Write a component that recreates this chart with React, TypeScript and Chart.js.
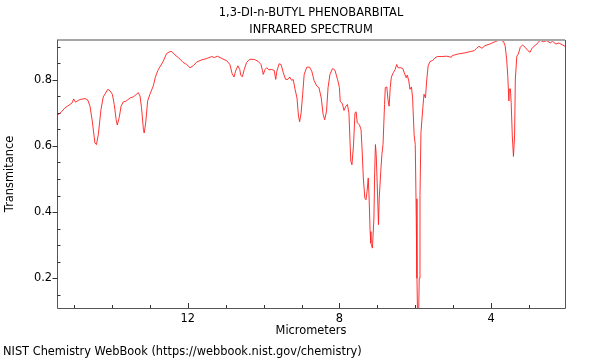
import React, { useEffect, useRef } from 'react';
import { Chart, registerables } from 'chart.js';

Chart.register(...registerables);

const titleLines = ['1,3-DI-n-BUTYL PHENOBARBITAL', 'INFRARED SPECTRUM'];
const xAxisLabel = 'Micrometers';
const yAxisLabel = 'Transmitance';
const footerText = 'NIST Chemistry WebBook (https://webbook.nist.gov/chemistry)';

const xRange = [2.05, 15.45];
const yRange = [0.11, 0.92];
const xMajorTicks = [12, 8, 4];
const xMinorTicks = [15, 14, 13, 11, 10, 9, 7, 6, 5, 3];
const yMajorTicks = [0.2, 0.4, 0.6, 0.8];
const yMinorTicks = [0.15, 0.25, 0.3, 0.35, 0.45, 0.5, 0.55, 0.65, 0.7, 0.75, 0.85, 0.9];

const wavelengths = [
  15.45, 15.33, 15.24, 15.11, 15.05, 15.01, 14.96, 14.9, 14.84, 14.71, 14.64, 14.58, 14.52, 14.45, 14.41, 14.36,
  14.29, 14.23, 14.11, 14.05, 13.99, 13.94, 13.89, 13.86, 13.81, 13.76, 13.7, 13.63, 13.52, 13.44, 13.37, 13.31,
  13.26, 13.22, 13.17, 13.15, 13.11, 13.06, 13.0, 12.91, 12.86, 12.79, 12.65, 12.56, 12.47, 12.42, 12.34, 12.25,
  12.12, 12.03, 11.94, 11.85, 11.76, 11.63, 11.5, 11.37, 11.3, 11.22, 11.1, 10.97, 10.89, 10.83, 10.78, 10.74,
  10.68, 10.63, 10.6, 10.56, 10.51, 10.45, 10.36, 10.24, 10.15, 10.07, 10.03, 10.01, 9.96, 9.92, 9.86, 9.79,
  9.72, 9.68, 9.65, 9.59, 9.54, 9.48, 9.42, 9.36, 9.31, 9.26, 9.22, 9.17, 9.12, 9.08, 9.05, 9.01,
  8.97, 8.93, 8.86, 8.79, 8.73, 8.67, 8.6, 8.54, 8.48, 8.43, 8.39, 8.34, 8.3, 8.25, 8.18, 8.12,
  8.05, 8.0, 7.98, 7.92, 7.88, 7.83, 7.79, 7.75, 7.7, 7.67, 7.63, 7.59, 7.56, 7.53, 7.47, 7.43,
  7.4, 7.37, 7.33, 7.3, 7.27, 7.24, 7.22, 7.19, 7.17, 7.13, 7.09, 7.07, 7.05, 7.03, 7.0, 6.97,
  6.95, 6.91, 6.88, 6.85, 6.81, 6.79, 6.75, 6.72, 6.69, 6.66, 6.63, 6.58, 6.53, 6.49, 6.45, 6.38,
  6.33, 6.29, 6.24, 6.21, 6.17, 6.14, 6.1, 6.07, 6.03, 6.0, 5.98, 5.955, 5.935, 5.915, 5.895, 5.875,
  5.85, 5.8, 5.77, 5.73, 5.7, 5.66, 5.61, 5.54, 5.48, 5.42, 5.3, 5.17, 5.05, 5.02, 4.86, 4.69,
  4.55, 4.44, 4.38, 4.32, 4.24, 4.16, 4.03, 3.89, 3.76, 3.67, 3.63, 3.59, 3.56, 3.53, 3.52, 3.49,
  3.47, 3.44, 3.41, 3.38, 3.36, 3.32, 3.28, 3.23, 3.17, 3.1, 3.03, 2.97, 2.93, 2.87, 2.79, 2.71,
  2.62, 2.53, 2.44, 2.38, 2.29, 2.21, 2.13, 2.05,
];

const transmittance = [
  0.692, 0.703, 0.715, 0.725, 0.73, 0.742, 0.732, 0.737, 0.74, 0.743, 0.739, 0.72, 0.675, 0.609, 0.604, 0.634,
  0.71, 0.748, 0.771, 0.766, 0.756, 0.725, 0.68, 0.663, 0.685, 0.72, 0.733, 0.735, 0.745, 0.748, 0.754, 0.761,
  0.751, 0.715, 0.649, 0.639, 0.67, 0.735, 0.756, 0.781, 0.806, 0.828, 0.855, 0.879, 0.885, 0.885, 0.875, 0.867,
  0.852, 0.846, 0.836, 0.843, 0.854, 0.86, 0.864, 0.87, 0.867, 0.871, 0.864, 0.857, 0.846, 0.818, 0.808, 0.826,
  0.842, 0.831, 0.813, 0.809, 0.831, 0.852, 0.862, 0.861, 0.856, 0.846, 0.828, 0.816, 0.831, 0.836, 0.83, 0.831,
  0.828, 0.801, 0.826, 0.848, 0.846, 0.821, 0.801, 0.801, 0.808, 0.798, 0.801, 0.771, 0.745, 0.69, 0.673, 0.7,
  0.756, 0.816, 0.838, 0.838, 0.826, 0.798, 0.781, 0.776, 0.745, 0.695, 0.679, 0.705, 0.776, 0.816, 0.834, 0.829,
  0.801, 0.776, 0.735, 0.727, 0.707, 0.72, 0.725, 0.7, 0.554, 0.543, 0.6, 0.7, 0.703, 0.67, 0.663, 0.649,
  0.584, 0.503, 0.442, 0.437, 0.463, 0.503, 0.452, 0.341, 0.306, 0.291, 0.382, 0.523, 0.604, 0.574, 0.473, 0.362,
  0.442, 0.523, 0.574, 0.604, 0.725, 0.776, 0.778, 0.74, 0.72, 0.776, 0.808, 0.821, 0.831, 0.846, 0.836, 0.836,
  0.834, 0.821, 0.806, 0.814, 0.796, 0.771, 0.778, 0.745, 0.634, 0.604, 0.44, 0.2, 0.06, 0.06, 0.2, 0.45,
  0.64, 0.715, 0.756, 0.745, 0.796, 0.842, 0.855, 0.858, 0.866, 0.87, 0.87, 0.871, 0.868, 0.873, 0.878, 0.881,
  0.885, 0.888, 0.895, 0.901, 0.895, 0.903, 0.908, 0.915, 0.921, 0.915, 0.903, 0.863, 0.812, 0.736, 0.772, 0.772,
  0.731, 0.63, 0.568, 0.63, 0.802, 0.871, 0.878, 0.898, 0.905, 0.898, 0.888, 0.883, 0.893, 0.901, 0.908, 0.919,
  0.915, 0.918, 0.911, 0.916, 0.908, 0.911, 0.906, 0.901,
];

const FONT = 'DejaVu Sans';
const FONT_SIZE = 11.4;

const decorPlugin = {
  id: 'decor',
  afterDraw(chart: any) {
    const { ctx, chartArea: a, scales } = chart;
    const xs = scales.x;
    const ys = scales.y;
    ctx.save();
    // frame
    ctx.lineWidth = 2;
    ctx.strokeStyle = '#a6a6a6';
    ctx.beginPath();
    ctx.moveTo(a.left, a.top);
    ctx.lineTo(a.right, a.top);
    ctx.stroke();
    ctx.lineWidth = 1;
    ctx.strokeStyle = '#555';
    ctx.beginPath();
    ctx.moveTo(Math.round(a.left) + 0.5, a.top);
    ctx.lineTo(Math.round(a.left) + 0.5, Math.round(a.bottom) + 0.5);
    ctx.lineTo(Math.round(a.right) + 0.5, Math.round(a.bottom) + 0.5);
    ctx.lineTo(Math.round(a.right) + 0.5, a.top);
    ctx.stroke();
    // ticks
    ctx.strokeStyle = '#333';
    ctx.beginPath();
    const b = Math.round(a.bottom);
    const l = Math.round(a.left) + 0.5;
    for (const v of xMajorTicks) {
      const px = Math.round(xs.getPixelForValue(v)) + 0.5;
      ctx.moveTo(px, b);
      ctx.lineTo(px, b - 5);
    }
    for (const v of xMinorTicks) {
      const px = Math.round(xs.getPixelForValue(v)) + 0.5;
      ctx.moveTo(px, b);
      ctx.lineTo(px, b - 3);
    }
    for (const v of yMajorTicks) {
      const py = Math.round(ys.getPixelForValue(v)) + 0.5;
      ctx.moveTo(l, py);
      ctx.lineTo(l - 5, py);
    }
    for (const v of yMinorTicks) {
      const py = Math.round(ys.getPixelForValue(v)) + 0.5;
      ctx.moveTo(l, py);
      ctx.lineTo(l + 3, py);
    }
    ctx.stroke();
    // title and footer
    ctx.fillStyle = '#000';
    ctx.font = `${FONT_SIZE}px "${FONT}"`;
    ctx.textAlign = 'center';
    ctx.textBaseline = 'middle';
    const cx = (a.left + a.right) / 2;
    ctx.fillText(titleLines[0], cx, 13.5);
    ctx.fillText(titleLines[1], cx, 30);
    ctx.textAlign = 'left';
    ctx.fillText(footerText, 3, 352);
    ctx.restore();
  },
};

export default function App() {
  const canvasRef = useRef<HTMLCanvasElement | null>(null);

  useEffect(() => {
    const canvas = canvasRef.current;
    if (!canvas) return;
    const points = wavelengths.map((w, i) => ({ x: w, y: transmittance[i] }));
    const chart = new Chart(canvas, {
      type: 'line',
      data: {
        datasets: [
          {
            data: points,
            borderColor: 'rgba(255, 30, 30, 0.9)',
            borderWidth: 1,
            pointRadius: 0,
            fill: false,
            tension: 0,
          },
        ],
      },
      options: {
        animation: false,
        responsive: false,
        events: [],
        layout: { padding: { left: 0, right: 35, top: 40, bottom: 22 } },
        plugins: {
          legend: { display: false },
          tooltip: { enabled: false },
          title: { display: false },
        },
        scales: {
          x: {
            type: 'linear',
            reverse: true,
            min: xRange[0],
            max: xRange[1],
            grid: { display: false, drawTicks: false },
            border: { display: false },
            afterBuildTicks: (s: any) => {
              s.ticks = xMajorTicks.map((v) => ({ value: v }));
            },
            afterFit: (s: any) => {
              s.height = 30;
            },
            ticks: {
              color: '#000',
              padding: 4,
              maxRotation: 0,
              font: { family: FONT, size: FONT_SIZE },
              callback: (v: any) => String(v),
            },
            title: {
              display: true,
              text: xAxisLabel,
              color: '#000',
              font: { family: FONT, size: FONT_SIZE },
              padding: { top: 0, bottom: 0 },
            },
          },
          y: {
            type: 'linear',
            min: yRange[0],
            max: yRange[1],
            grid: { display: false, drawTicks: false },
            border: { display: false },
            afterBuildTicks: (s: any) => {
              s.ticks = yMajorTicks.map((v) => ({ value: v }));
            },
            afterFit: (s: any) => {
              s.width = 57;
            },
            ticks: {
              color: '#000',
              padding: 5,
              font: { family: FONT, size: FONT_SIZE },
              callback: (v: any) => Number(v).toFixed(1),
            },
            title: {
              display: true,
              text: yAxisLabel,
              color: '#000',
              font: { family: FONT, size: FONT_SIZE },
              padding: { top: 3.5, bottom: 0 },
            },
          },
        },
      },
      plugins: [decorPlugin],
    } as any);
    return () => chart.destroy();
  }, []);

  return (
    <div style={{ position: 'absolute', left: 0, top: 0, width: 600, height: 360, background: '#fff' }}>
      <canvas ref={canvasRef} width={600} height={360} style={{ display: 'block' }} />
    </div>
  );
}
